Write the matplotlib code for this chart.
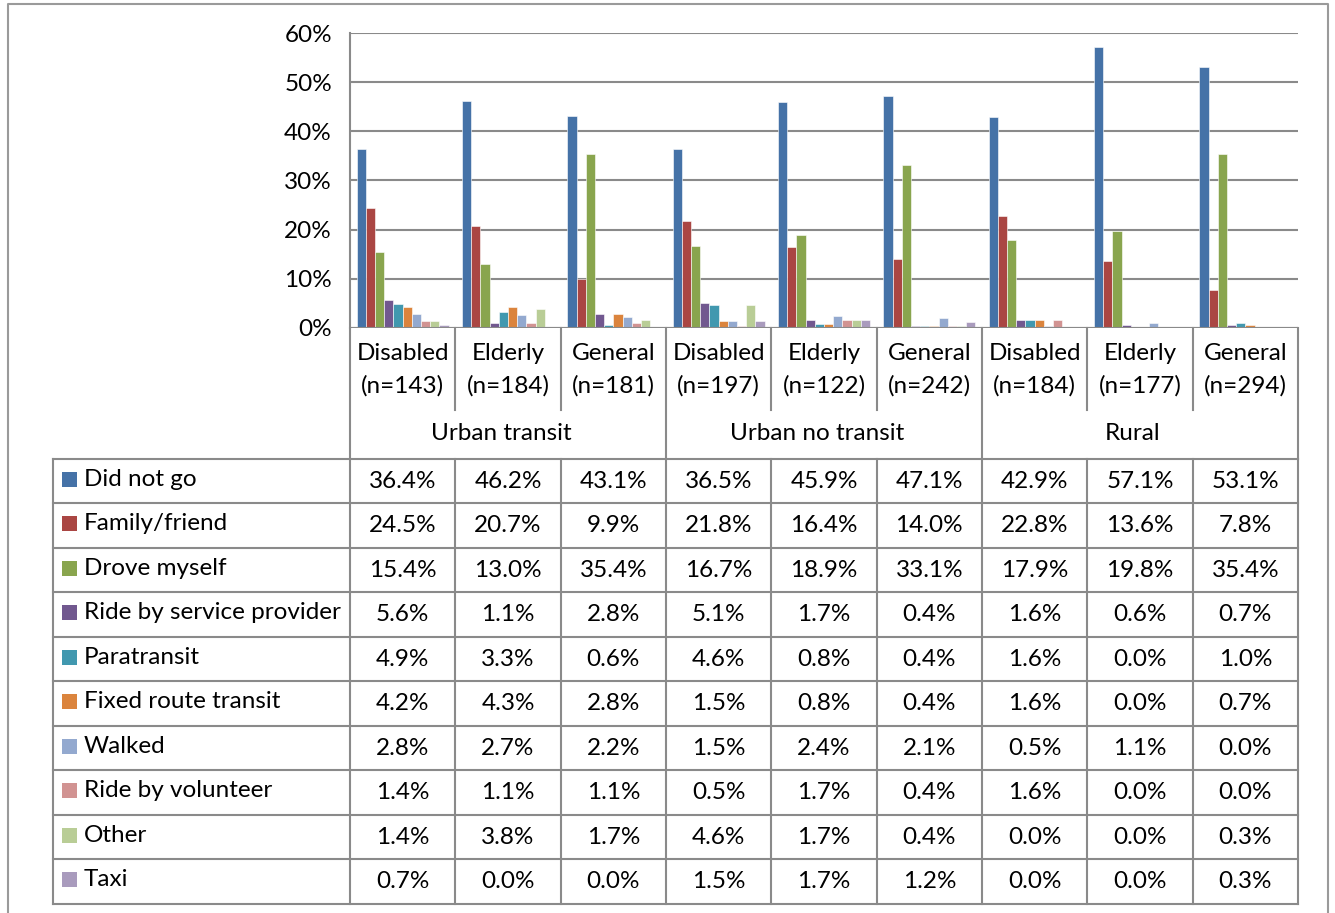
import matplotlib
matplotlib.use("Agg")
import matplotlib.pyplot as plt
from matplotlib.patches import Rectangle
from matplotlib.ticker import FuncFormatter

plt.rcParams['font.family'] = ['Lato', 'DejaVu Sans']
plt.rcParams['font.size'] = 17.5

# categories along the x axis
groups = ["Urban transit", "Urban no transit", "Rural"]
subgroups = ["Disabled", "Elderly", "General"]
sample_sizes = [143, 184, 181, 197, 122, 242, 184, 177, 294]

# share of trips by mode (%), one list per mode, 9 categories each
modes = ["Did not go", "Family/friend", "Drove myself", "Ride by service provider",
         "Paratransit", "Fixed route transit", "Walked", "Ride by volunteer",
         "Other", "Taxi"]
did_not_go = [36.4, 46.2, 43.1, 36.5, 45.9, 47.1, 42.9, 57.1, 53.1]
family_friend = [24.5, 20.7, 9.9, 21.8, 16.4, 14.0, 22.8, 13.6, 7.8]
drove_myself = [15.4, 13.0, 35.4, 16.7, 18.9, 33.1, 17.9, 19.8, 35.4]
service_provider = [5.6, 1.1, 2.8, 5.1, 1.7, 0.4, 1.6, 0.6, 0.7]
paratransit = [4.9, 3.3, 0.6, 4.6, 0.8, 0.4, 1.6, 0.0, 1.0]
fixed_route = [4.2, 4.3, 2.8, 1.5, 0.8, 0.4, 1.6, 0.0, 0.7]
walked = [2.8, 2.7, 2.2, 1.5, 2.4, 2.1, 0.5, 1.1, 0.0]
volunteer = [1.4, 1.1, 1.1, 0.5, 1.7, 0.4, 1.6, 0.0, 0.0]
other = [1.4, 3.8, 1.7, 4.6, 1.7, 0.4, 0.0, 0.0, 0.3]
taxi = [0.7, 0.0, 0.0, 1.5, 1.7, 1.2, 0.0, 0.0, 0.3]
series = [did_not_go, family_friend, drove_myself, service_provider, paratransit,
          fixed_route, walked, volunteer, other, taxi]

colors = ["#4572A7", "#AA4643", "#89A54E", "#71588F", "#4198AF",
          "#DB843D", "#93A9CF", "#D19392", "#B9CD96", "#A99BBD"]

W, H = 1335, 913
LINE = "#8a8a8a"
FS = 17.5
fig = plt.figure(figsize=(W / 100, H / 100), dpi=100)

# layout in pixels
px_left, px_right, px_top, px_bot = 350, 1298, 33, 328
tab_left, tab_top, row_h = 53, 459, 44.5
n_cat = len(sample_sizes)
cat_w = (px_right - px_left) / n_cat

# overlay axes in pixel coordinates for the table and frame
ov = fig.add_axes([0, 0, 1, 1])
ov.set_xlim(0, W)
ov.set_ylim(H, 0)
ov.axis('off')

ax = fig.add_axes([px_left / W, 1 - px_bot / H,
                   (px_right - px_left) / W, (px_bot - px_top) / H])
ax.set_facecolor('none')

group_frac = 0.874
bw = group_frac / len(series)
for j, (vals, c) in enumerate(zip(series, colors)):
    xs = [i - group_frac / 2 + (j + 0.5) * bw for i in range(n_cat)]
    ax.bar(xs, vals, width=bw, color=c, edgecolor='white', linewidth=0.4, zorder=3)

ax.set_xlim(-0.5, n_cat - 0.5)
ax.set_ylim(0, 60)
ax.set_yticks(range(0, 61, 10))
ax.yaxis.set_major_formatter(FuncFormatter(lambda v, p: f"{v:.0f}%"))
ax.grid(axis='y', color=LINE, linewidth=1.5, zorder=0)
ax.set_xticks([])
ax.tick_params(axis='y', length=0, pad=13, labelsize=FS)
for s in ['top', 'right', 'bottom']:
    ax.spines[s].set_visible(False)
ax.spines['left'].set_color(LINE)
ax.spines['left'].set_linewidth(1.5)
ax.axhline(0, color=LINE, linewidth=1.5, zorder=4)

lw = 1.5
# category label cells
for k in range(n_cat + 1):
    x = px_left + k * cat_w
    y_end = tab_top if k % 3 == 0 else 410
    ov.plot([x, x], [px_bot, y_end], color=LINE, lw=lw)
for i in range(n_cat):
    cx = px_left + (i + 0.5) * cat_w
    ov.text(cx, 353, subgroups[i % 3], ha='center', va='center', fontsize=FS)
    ov.text(cx, 386, f"(n={sample_sizes[i]})", ha='center', va='center', fontsize=FS)
for g, name in enumerate(groups):
    cx = px_left + (g * 3 + 1.5) * cat_w - 7
    ov.text(cx, 434, name, ha='center', va='center', fontsize=FS)

# data table
n_rows = len(modes)
tab_bot = tab_top + n_rows * row_h
for r in range(n_rows + 1):
    y = tab_top + r * row_h
    ov.plot([tab_left, px_right], [y, y], color=LINE, lw=lw)
for x in [tab_left] + [px_left + k * cat_w for k in range(n_cat + 1)]:
    ov.plot([x, x], [tab_top, tab_bot], color=LINE, lw=lw)
for r, (name, vals, c) in enumerate(zip(modes, series, colors)):
    cy = tab_top + (r + 0.5) * row_h
    ov.add_patch(Rectangle((62, cy - 9.5), 15, 15, facecolor=c, edgecolor='none'))
    ov.text(84, cy - 2, name, ha='left', va='center', fontsize=FS)
    for i, v in enumerate(vals):
        ov.text(px_left + (i + 0.5) * cat_w, cy, f"{v:.1f}%",
                ha='center', va='center', fontsize=FS)

# outer frame
ov.plot([7.5, 7.5, 1328, 1328], [H + 5, 4, 4, H + 5], color="#9a9a9a", lw=1.5)

fig.savefig("out.png", dpi=100)
